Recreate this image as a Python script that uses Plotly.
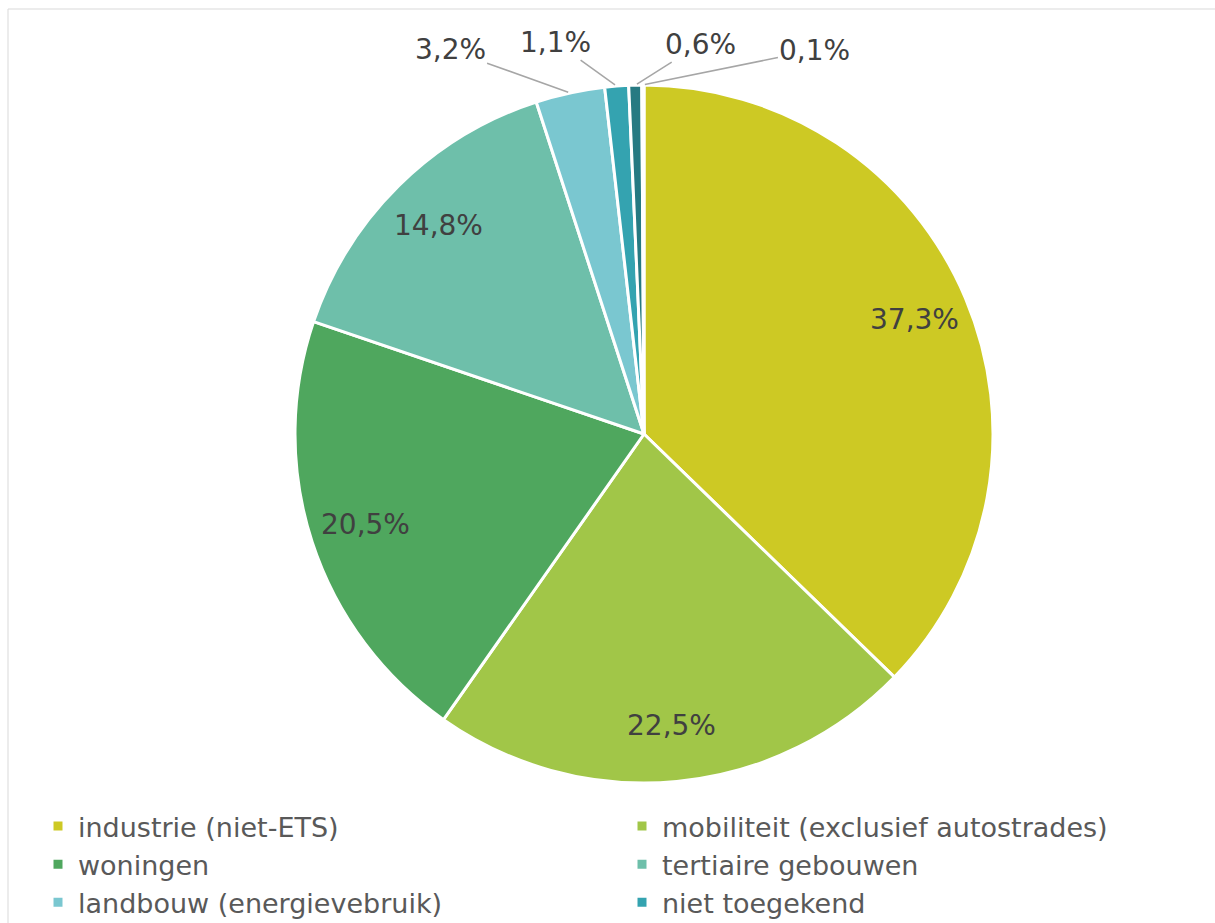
import math
import plotly.graph_objects as go

# sectors, clockwise from 12 o'clock
labels = [
    "industrie (niet-ETS)",
    "mobiliteit (exclusief autostrades)",
    "woningen",
    "tertiaire gebouwen",
    "landbouw (energievebruik)",
    "niet toegekend",
    "afval",
    "overige",
]
values = [37.3, 22.5, 20.5, 14.8, 3.2, 1.1, 0.6, 0.1]
colors = ["#CDC924", "#A1C648", "#4FA75E", "#6EBFAA", "#7AC7D0", "#34A3B0", "#267A82", "#1E5C63"]

# label offsets (px) for the small outside labels, None = label inside the slice
label_offsets = [None, None, None, None, (-120, -43), (-61, -44), (65, -41), (172, -35)]

W, H = 1215, 923
cx, cy, r = 644, 434, 349  # pie centre / radius in px
INSIDE_R = 0.84

fig = go.Figure()
fig.add_trace(
    go.Pie(
        labels=labels,
        values=values,
        sort=False,
        direction="clockwise",
        rotation=0,
        marker=dict(colors=colors, line=dict(color="white", width=3)),
        textinfo="none",
        domain=dict(
            x=[(cx - r) / W, (cx + r) / W],
            y=[(H - cy - r) / H, (H - cy + r) / H],
        ),
        hoverinfo="label+percent",
    )
)

# data labels at the slice mid angles
total = sum(values)
annotations = []
cum = 0.0
for val, off in zip(values, label_offsets):
    mid = (cum + val / 2) / total * 2 * math.pi
    cum += val
    dx, dy = math.sin(mid), math.cos(mid)
    txt = f"{val:.1f}".replace(".", ",") + "%"
    font = dict(family="DejaVu Sans", size=28, color="#404040")
    if off is None:
        annotations.append(
            dict(
                x=(cx + INSIDE_R * r * dx) / W,
                y=1 - (cy - INSIDE_R * r * dy) / H,
                xref="paper",
                yref="paper",
                xanchor="center",
                yanchor="middle",
                text=txt,
                showarrow=False,
                font=font,
            )
        )
    else:
        annotations.append(
            dict(
                x=(cx + r * dx) / W,
                y=1 - (cy - r * dy) / H,
                xref="paper",
                yref="paper",
                text=txt,
                showarrow=True,
                arrowhead=0,
                arrowwidth=1.5,
                arrowcolor="#A6A6A6",
                standoff=2,
                ax=off[0],
                ay=off[1],
                font=font,
            )
        )

fig.update_layout(
    width=W,
    height=H,
    margin=dict(l=0, r=0, t=0, b=0, autoexpand=False),
    paper_bgcolor="white",
    plot_bgcolor="white",
    showlegend=True,
    annotations=annotations,
    legend=dict(
        orientation="h",
        x=38 / W,
        xanchor="left",
        y=1 - 802 / H,
        yanchor="top",
        entrywidth=539,
        entrywidthmode="pixels",
        font=dict(family="DejaVu Sans", size=27, color="#595959"),
        bgcolor="rgba(0,0,0,0)",
        traceorder="normal",
    ),
    shapes=[
        dict(
            type="rect",
            xref="paper",
            yref="paper",
            x0=8 / W,
            x1=1.01,
            y0=-0.1,
            y1=1 - 9 / H,
            line=dict(color="#D9D9D9", width=1),
            fillcolor="rgba(0,0,0,0)",
            layer="below",
        )
    ],
)

fig.write_html(
    "out.html",
    config={"displayModeBar": False},
    post_script="document.body.style.margin='0';document.body.style.overflow='hidden';",
)
